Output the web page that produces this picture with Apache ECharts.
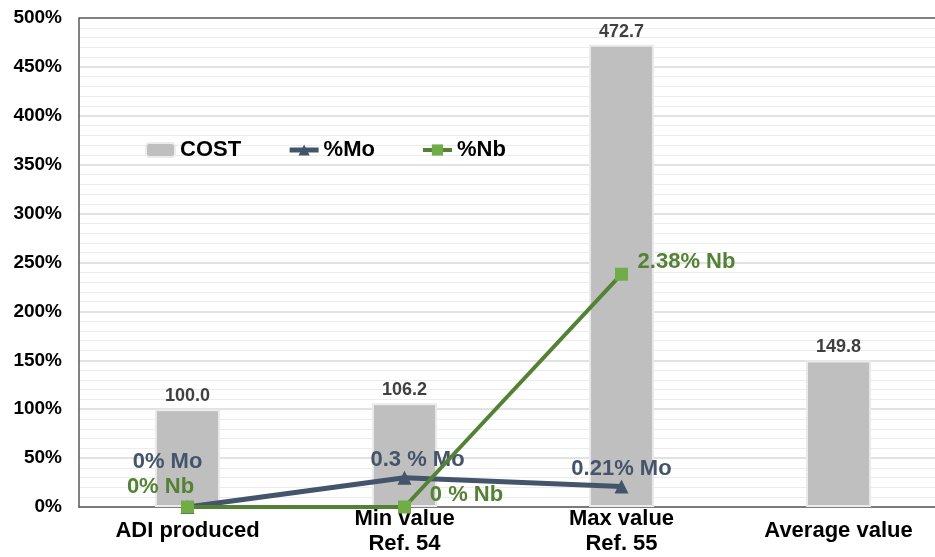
<!DOCTYPE html>
<html>
<head>
<meta charset="utf-8">
<script src="https://cdn.jsdelivr.net/npm/echarts@6/dist/echarts.min.js"></script>
<style>html,body{margin:0;padding:0;background:#fff;overflow:hidden}#c{width:947px;height:557px}</style>
</head>
<body>
<div id="c"></div>
<script>
const categories = ['ADI produced', 'Min value\nRef. 54', 'Max value\nRef. 55', 'Average value'];
const costValues = [100.0, 106.2, 472.7, 149.8];
const moValues = [0, 30, 21, null];
const nbValues = [0, 0, 238, null];
const moLabels = ['0% Mo', '0.3 % Mo', '0.21% Mo', ''];
const nbLabels = ['0% Nb', '0 % Nb', '2.38% Nb', ''];
const yTicks = [0, 50, 100, 150, 200, 250, 300, 350, 400, 450, 500];

const moOffsets = [[-20, -45], [13, -18], [0, -18]];
const nbOffsets = [[-27, -20], [62, -12], [65, -12]];
const font = 'Liberation Sans, Arial, sans-serif';
const splitColors = yTicks.map((t, i) => i === yTicks.length - 1 ? '#595959' : '#d9d9d9');

const chart = echarts.init(document.getElementById('c'), null, {renderer: 'canvas'});
chart.setOption({
  animation: false,
  textStyle: {fontFamily: font},
  grid: {left: 79, top: 18, bottom: 50, right: 0, containLabel: false},
  legend: {
    left: 140, top: 134, itemGap: 46, itemWidth: 29, itemHeight: 14,
    textStyle: {fontFamily: font, fontWeight: 'bold', fontSize: 22, color: '#000'},
    data: [
      {name: 'COST'},
      {name: '%Mo', lineStyle: {width: 5}},
      {name: '%Nb', lineStyle: {width: 4}}
    ]
  },
  xAxis: {
    type: 'category', data: categories,
    axisLine: {lineStyle: {color: '#595959', width: 1.5}},
    axisTick: {show: false},
    axisLabel: {fontFamily: font, fontWeight: 'bold', fontSize: 22, color: '#000',
      lineHeight: 25, verticalAlign: 'middle', margin: 24}
  },
  yAxis: {
    type: 'value', min: yTicks[0], max: yTicks[yTicks.length - 1], interval: 50,
    axisLine: {show: true, lineStyle: {color: '#595959', width: 1.5}},
    axisTick: {show: false},
    axisLabel: {fontFamily: font, fontWeight: 'bold', fontSize: 19, color: '#000', margin: 17,
      formatter: v => v + '%'},
    splitLine: {lineStyle: {color: splitColors, width: 1.5}},
    minorTick: {show: false, splitNumber: 5},
    minorSplitLine: {show: true, lineStyle: {color: '#ececec', width: 1}}
  },
  series: [
    {
      name: 'COST', type: 'bar', data: costValues, barWidth: '30%',
      itemStyle: {color: '#bfbfbf', borderColor: '#ebebeb', borderWidth: 2},
      label: {show: true, position: 'top', distance: 4, fontFamily: font, fontWeight: 'bold',
        fontSize: 18, color: '#404040', formatter: p => p.value.toFixed(1)},
      z: 1
    },
    {
      name: '%Mo', type: 'line', data: moValues.map((v, i) => ({
        value: v,
        label: v === null ? {show: false} : {show: true, position: 'inside', offset: moOffsets[i],
          formatter: moLabels[i]}
      })),
      symbol: 'triangle', symbolSize: 14,
      lineStyle: {color: '#44546a', width: 5},
      itemStyle: {color: '#44546a'},
      label: {fontFamily: font, fontWeight: 'bold', fontSize: 22, color: '#44546a'},
      z: 3
    },
    {
      name: '%Nb', type: 'line', data: nbValues.map((v, i) => ({
        value: v,
        label: v === null ? {show: false} : {show: true, position: 'inside', offset: nbOffsets[i],
          formatter: nbLabels[i]}
      })),
      symbol: 'rect', symbolSize: 13,
      lineStyle: {color: '#548235', width: 4},
      itemStyle: {color: '#70ad47'},
      label: {fontFamily: font, fontWeight: 'bold', fontSize: 22, color: '#548235'},
      z: 4
    }
  ]
});
</script>
</body>
</html>
